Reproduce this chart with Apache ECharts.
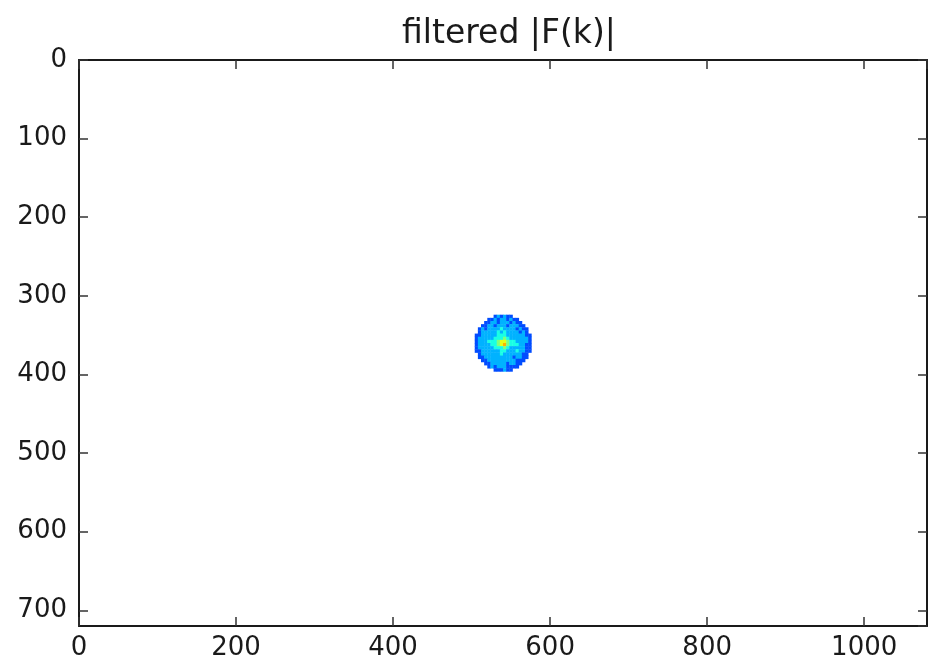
<!DOCTYPE html>
<html>
<head>
<meta charset="utf-8">
<script src="https://cdn.jsdelivr.net/npm/echarts@6/dist/echarts.min.js"></script>
<style>
  html, body { margin: 0; padding: 0; background: #fff; }
  #chart { width: 928px; height: 669px; }
</style>
</head>
<body>
<div id="chart"></div>
<script>
// Image extent (pixels) and tick labels
const imageWidth = 1080;
const imageHeight = 720;
const xTicks = [0, 200, 400, 600, 800, 1000];
const yTicks = [0, 100, 200, 300, 400, 500, 600, 700];

// Left/top edges of the grid cells carrying the filtered spectrum (pixel units)
const cellCols = [504, 508, 512, 516, 520, 524, 528, 532, 536, 540, 544, 548, 552, 556, 560, 564, 568, 572];
const cellRows = [324, 328, 332, 336, 340, 344, 348, 352, 356, 360, 364, 368, 372, 376, 380, 384, 388, 392];
const cellSize = 4;

// |F(k)| levels inside the low-pass disc; '.' = filtered out (masked)
const magnitudeRows = [
  "......232322......",
  "....2232332322....",
  "...223323332322...",
  "..22332333233322..",
  ".2323333433332322.",
  ".2333334343333232.",
  "223333344433333322",
  "233333444543333332",
  "233344456654433332",
  "233334456754443322",
  "233333444543333322",
  "223333334433343322",
  ".2333333433333322.",
  ".2233333333323322.",
  "..22333333333222..",
  "...223333323322...",
  "....2323332222....",
  "......222322......"
];

// jet colormap
const jet = ['#00007f', '#0000ff', '#007fff', '#00ffff', '#7fff7f', '#ffff00', '#ff7f00', '#ff0000', '#7f0000'];

const cells = [];
magnitudeRows.forEach((row, r) => {
  for (let c = 0; c < row.length; c++) {
    const ch = row[c];
    if (ch === '.') continue;
    cells.push([cellCols[c], cellRows[r], Number(ch)]);
  }
});

const chart = echarts.init(document.getElementById('chart'), null, { renderer: 'canvas' });

const font = 'DejaVu Sans';
const frameLine = { show: true, onZero: false, lineStyle: { color: '#1a1a1a', width: 2 } };
const innerTick = { show: true, inside: true, length: 9, lineStyle: { color: '#333', width: 1.5 } };

chart.setOption({
  animation: false,
  backgroundColor: '#ffffff',
  title: {
    text: 'filtered |F(k)|',
    left: 504,
    top: 13,
    textAlign: 'center',
    textStyle: { fontFamily: font, fontSize: 33, fontWeight: 'normal', color: '#1a1a1a' }
  },
  grid: { left: 79, top: 60, right: 1, bottom: 43, containLabel: false },
  visualMap: {
    show: false,
    type: 'continuous',
    min: 0,
    max: 10,
    dimension: 2,
    seriesIndex: 0,
    inRange: { color: jet }
  },
  xAxis: [
    {
      type: 'value', position: 'bottom', min: 0, max: imageWidth, interval: 200,
      axisLine: frameLine, axisTick: innerTick, splitLine: { show: false },
      axisLabel: {
        fontFamily: font, fontSize: 26, color: '#1a1a1a', margin: 9,
        showMaxLabel: false,
        formatter: v => (xTicks.indexOf(v) >= 0 ? String(v) : '')
      }
    },
    {
      type: 'value', position: 'top', min: 0, max: imageWidth, interval: 200,
      axisLine: frameLine, axisTick: innerTick, splitLine: { show: false },
      axisLabel: { show: false }
    }
  ],
  yAxis: [
    {
      type: 'value', position: 'left', inverse: true, min: 0, max: imageHeight, interval: 100,
      axisLine: frameLine, axisTick: innerTick, splitLine: { show: false },
      axisLabel: {
        fontFamily: font, fontSize: 26, color: '#1a1a1a', margin: 12,
        showMaxLabel: false,
        formatter: v => (yTicks.indexOf(v) >= 0 ? String(v) : '')
      }
    },
    {
      type: 'value', position: 'right', inverse: true, min: 0, max: imageHeight, interval: 100,
      axisLine: frameLine, axisTick: innerTick, splitLine: { show: false },
      axisLabel: { show: false }
    }
  ],
  series: [
    {
      type: 'custom',
      xAxisIndex: 0,
      yAxisIndex: 0,
      data: cells,
      encode: { x: 0, y: 1 },
      renderItem: (params, api) => {
        const x = api.value(0);
        const y = api.value(1);
        const p0 = api.coord([x, y]);
        const p1 = api.coord([x + cellSize, y + cellSize]);
        return {
          type: 'rect',
          shape: { x: p0[0], y: p0[1], width: p1[0] - p0[0] + 0.4, height: p1[1] - p0[1] + 0.4 },
          style: { fill: api.visual('color') }
        };
      }
    }
  ]
});
</script>
</body>
</html>
